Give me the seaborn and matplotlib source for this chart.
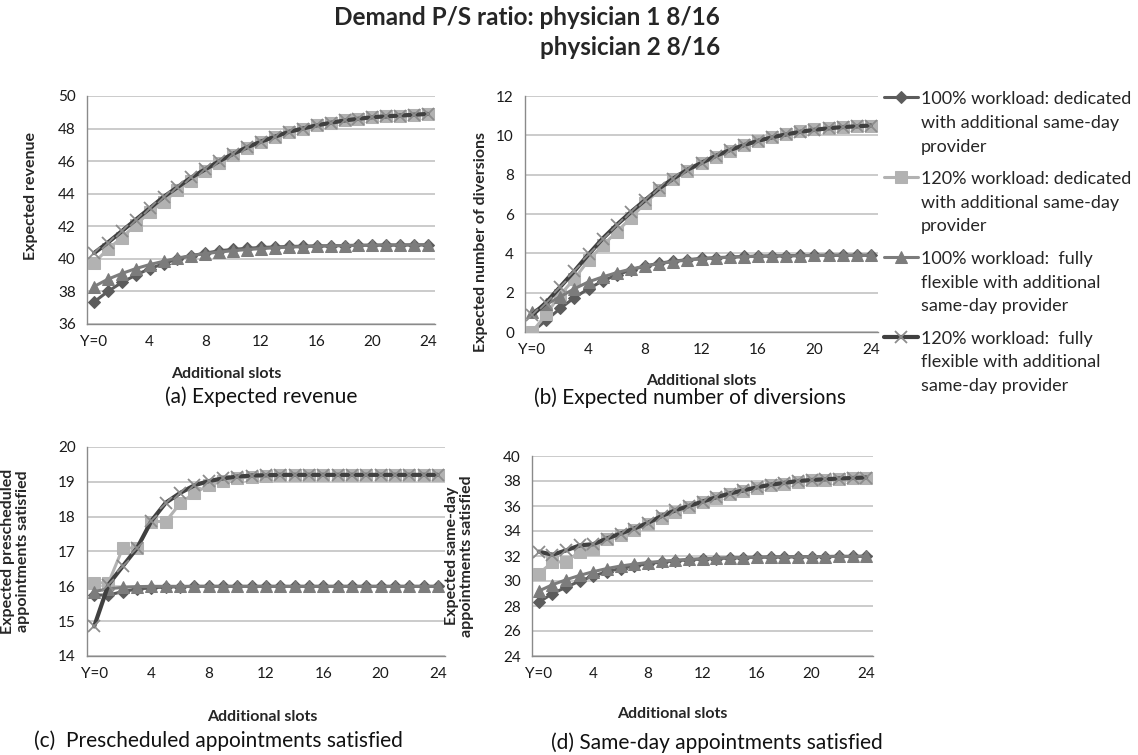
import numpy as np
import pandas as pd
import matplotlib
matplotlib.use("Agg")
import matplotlib.pyplot as plt
import seaborn as sns

# ---------------- data ----------------
slots = list(range(25))
xtick_pos = [0, 4, 8, 12, 16, 20, 24]
xtick_labels = ["Y=0", "4", "8", "12", "16", "20", "24"]

series_names = [
    "100% workload: dedicated\nwith additional same-day\nprovider",
    "120% workload: dedicated\nwith additional same-day\nprovider",
    "100% workload:  fully\nflexible with additional\nsame-day provider",
    "120% workload:  fully\nflexible with additional\nsame-day provider",
]

rev_ded100 = [37.35, 38.0, 38.55, 39.0, 39.4, 39.7, 40.0, 40.2, 40.35, 40.5, 40.58, 40.65, 40.7,
              40.73, 40.76, 40.78, 40.8, 40.8, 40.82, 40.83, 40.84, 40.85, 40.85, 40.86, 40.86]
rev_ded120 = [39.75, 40.6, 41.3, 42.1, 42.85, 43.5, 44.2, 44.8, 45.4, 45.9, 46.4, 46.8, 47.2,
              47.5, 47.8, 48.0, 48.2, 48.35, 48.5, 48.6, 48.7, 48.75, 48.8, 48.85, 48.9]
rev_flex100 = [38.3, 38.75, 39.1, 39.4, 39.65, 39.85, 40.05, 40.2, 40.32, 40.42, 40.5, 40.57, 40.63,
               40.68, 40.72, 40.75, 40.78, 40.8, 40.82, 40.83, 40.84, 40.85, 40.85, 40.86, 40.86]
rev_flex120 = [40.35, 41.0, 41.7, 42.4, 43.1, 43.8, 44.4, 45.0, 45.5, 46.0, 46.45, 46.85, 47.2,
               47.5, 47.8, 48.0, 48.2, 48.35, 48.5, 48.6, 48.7, 48.75, 48.8, 48.85, 48.9]

div_ded100 = [0.0, 0.6, 1.2, 1.75, 2.2, 2.6, 2.9, 3.15, 3.35, 3.5, 3.6, 3.68, 3.74,
              3.78, 3.81, 3.84, 3.86, 3.87, 3.88, 3.89, 3.9, 3.9, 3.9, 3.9, 3.9]
div_ded120 = [0.0, 0.9, 1.9, 2.7, 3.65, 4.4, 5.1, 5.8, 6.55, 7.2, 7.8, 8.2, 8.6,
              8.9, 9.2, 9.5, 9.7, 9.9, 10.05, 10.2, 10.3, 10.38, 10.42, 10.46, 10.5]
div_flex100 = [1.0, 1.4, 1.8, 2.2, 2.55, 2.8, 3.02, 3.2, 3.35, 3.48, 3.58, 3.66, 3.72,
               3.77, 3.8, 3.83, 3.85, 3.86, 3.87, 3.88, 3.89, 3.9, 3.9, 3.9, 3.9]
div_flex120 = [0.85, 1.5, 2.3, 3.1, 3.95, 4.75, 5.45, 6.1, 6.7, 7.3, 7.8, 8.25, 8.6,
               8.95, 9.25, 9.5, 9.72, 9.9, 10.05, 10.18, 10.28, 10.36, 10.42, 10.46, 10.5]

pre_ded100 = [15.75, 15.75, 15.85, 15.92, 15.96, 15.98, 15.99, 16.0, 16.0, 16.0, 16.0, 16.0, 16.0,
              16.0, 16.0, 16.0, 16.0, 16.0, 16.0, 16.0, 16.0, 16.0, 16.0, 16.0, 16.0]
pre_ded120 = [16.1, 16.1, 17.1, 17.1, 17.86, 17.86, 18.38, 18.68, 18.9, 19.02, 19.1, 19.15, 19.18,
              19.19, 19.2, 19.2, 19.2, 19.2, 19.2, 19.2, 19.2, 19.2, 19.2, 19.2, 19.2]
pre_flex100 = [15.85, 15.93, 15.97, 15.99, 16.0, 16.0, 16.0, 16.0, 16.0, 16.0, 16.0, 16.0, 16.0,
               16.0, 16.0, 16.0, 16.0, 16.0, 16.0, 16.0, 16.0, 16.0, 16.0, 16.0, 16.0]
pre_flex120 = [14.85, 16.05, 16.58, 17.1, 17.88, 18.4, 18.68, 18.9, 19.02, 19.1, 19.15, 19.18, 19.19,
               19.2, 19.2, 19.2, 19.2, 19.2, 19.2, 19.2, 19.2, 19.2, 19.2, 19.2, 19.2]

sd_ded100 = [28.3, 29.0, 29.5, 30.0, 30.4, 30.75, 31.0, 31.2, 31.38, 31.52, 31.62, 31.7, 31.76,
             31.8, 31.84, 31.87, 31.9, 31.92, 31.93, 31.94, 31.95, 31.96, 31.97, 31.97, 31.98]
sd_ded120 = [30.6, 31.5, 31.55, 32.35, 32.6, 33.35, 33.7, 34.1, 34.55, 35.05, 35.5, 35.9, 36.3,
             36.65, 36.95, 37.2, 37.45, 37.65, 37.8, 37.95, 38.05, 38.12, 38.18, 38.22, 38.25]
sd_flex100 = [29.2, 29.7, 30.1, 30.45, 30.75, 31.0, 31.2, 31.35, 31.48, 31.58, 31.66, 31.73, 31.78,
              31.82, 31.86, 31.88, 31.9, 31.92, 31.93, 31.94, 31.95, 31.96, 31.97, 31.97, 31.98]
sd_flex120 = [32.35, 32.1, 32.45, 32.85, 32.95, 33.4, 33.8, 34.2, 34.65, 35.2, 35.65, 36.0, 36.35,
              36.7, 37.0, 37.25, 37.5, 37.7, 37.85, 38.0, 38.08, 38.14, 38.2, 38.24, 38.28]

# ---------------- style ----------------
sns.set_style("white")
plt.rcParams["font.family"] = ["Lato", "DejaVu Sans"]

W, H = 1138, 755
fig = plt.figure(figsize=(W / 100, H / 100), dpi=100)


def px_axes(left, top, right, bottom):
    return fig.add_axes([left / W, 1 - bottom / H, (right - left) / W, (bottom - top) / H])


styles = [
    dict(marker="D", color="#5c5c5c", linewidth=2.2, markersize=6.5, markeredgecolor="#5c5c5c", zorder=3),
    dict(marker="s", color="#b2b2b2", linewidth=2.2, markersize=8, markeredgecolor="#b2b2b2", zorder=4),
    dict(marker="^", color="#7c7c7c", linewidth=2.2, markersize=8, markeredgecolor="#7c7c7c", zorder=5),
    dict(marker="x", color="#404040", linewidth=3.0, markersize=8.5, markeredgecolor="#8c8c8c",
         markeredgewidth=1.3, zorder=6),
]

panels = [
    dict(box=(87, 96, 435, 324), data=[rev_ded100, rev_ded120, rev_flex100, rev_flex120],
         ylim=(36, 50), yticks=np.arange(36, 51, 2), ylabel="Expected revenue",
         ylab_xy=(-0.14, 0.56), xlab_xy=(0.40, -0.19)),
    dict(box=(525, 96, 878, 332), data=[div_ded100, div_ded120, div_flex100, div_flex120],
         ylim=(0, 12), yticks=np.arange(0, 13, 2), ylabel="Expected number of diversions",
         ylab_xy=(-0.105, 0.38), xlab_xy=(0.50, -0.18)),
    dict(box=(87, 447, 445, 656), data=[pre_ded100, pre_ded120, pre_flex100, pre_flex120],
         ylim=(14, 20), yticks=np.arange(14, 21, 1), ylabel="Expected prescheduled\nappointments satisfied",
         ylab_xy=(-0.16, 0.50), xlab_xy=(0.49, -0.26)),
    dict(box=(532, 456, 873, 656), data=[sd_ded100, sd_ded120, sd_flex100, sd_flex120],
         ylim=(24, 40), yticks=np.arange(24, 41, 2), ylabel="Expected same-day\nappointments satisfied",
         ylab_xy=(-0.17, 0.50), xlab_xy=(0.41, -0.255)),
]

axes = []
for p in panels:
    ax = px_axes(*p["box"])
    axes.append(ax)
    for vals, st in zip(p["data"], styles):
        sns.lineplot(x=slots, y=vals, ax=ax, legend=False, **st)
    ax.set_xlim(-0.5, 24.5)
    ax.set_ylim(*p["ylim"])
    ax.set_yticks(p["yticks"])
    ax.set_yticklabels([f"{int(v)}" for v in p["yticks"]])
    ax.grid(axis="y", color="#bdbdbd", linewidth=1.1)
    ax.set_axisbelow(True)
    for s in ["top", "right"]:
        ax.spines[s].set_visible(False)
    for s in ["left", "bottom"]:
        ax.spines[s].set_color("#8a8a8a")
        ax.spines[s].set_linewidth(1.0)
    # category boundaries as tick marks
    ax.set_xticks(np.arange(-0.5, 25, 1))
    ax.set_xticklabels([])
    ax.tick_params(axis="x", which="major", length=5, width=1, color="#8a8a8a", direction="out")
    ax.set_xticks(xtick_pos, minor=True)
    ax.set_xticklabels(xtick_labels, minor=True)
    ax.tick_params(axis="x", which="minor", length=0, pad=8, labelsize=11, labelcolor="#1a1a1a")
    ax.tick_params(axis="y", length=5, width=1, color="#8a8a8a", direction="out", pad=3,
                   labelsize=11, labelcolor="#1a1a1a")
    ax.set_ylabel(p["ylabel"], fontsize=11.5, fontweight="bold", linespacing=1.05)
    ax.yaxis.set_label_coords(*p["ylab_xy"])
    ax.set_xlabel("Additional slots", fontsize=11.5, fontweight="bold")
    ax.xaxis.set_label_coords(*p["xlab_xy"])

# captions
captions = [
    ("(a) Expected revenue", 261, 397),
    ("(b) Expected number of diversions", 690, 398),
    ("(c)  Prescheduled appointments satisfied", 218, 741),
    ("(d) Same-day appointments satisfied", 717, 743),
]
for txt, cx, cy in captions:
    fig.text(cx / W, 1 - cy / H, txt, ha="center", va="center", fontsize=15, color="#111111")

# title
fig.text(720 / W, 1 - 6 / H, "Demand P/S ratio: physician 1 8/16\nphysician 2 8/16",
         ha="right", va="top", multialignment="right", fontsize=17.5, fontweight="bold",
         linespacing=1.35)

# legend
handles = axes[0].get_lines()[:4]
leg = fig.legend(handles, series_names, loc="upper left", bbox_to_anchor=(884 / W, 1 - 91 / H),
                 frameon=False, fontsize=13, handlelength=1.9, handletextpad=0.15,
                 labelspacing=0.9, borderaxespad=0, borderpad=0)
for t in leg.get_texts():
    t.set_linespacing(1.6)
try:
    for col in leg._legend_handle_box.get_children():
        for hp in col.get_children():
            hp.align = "top"
except Exception:
    pass

fig.savefig("out.png", dpi=100)
